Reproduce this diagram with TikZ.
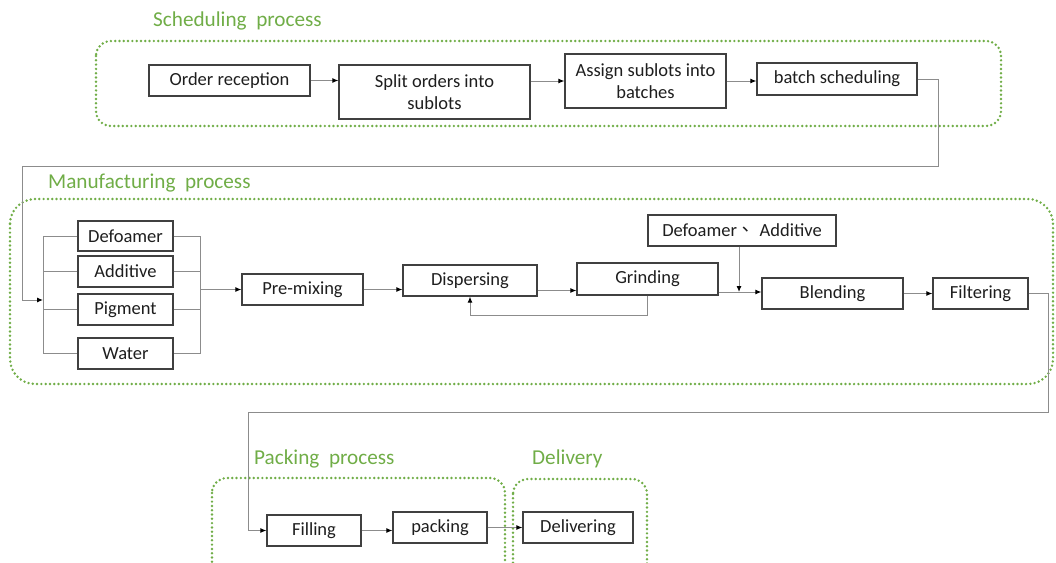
\documentclass[tikz,border=0pt]{standalone}
\usepackage{fontspec}
\setmainfont{Carlito}
\newfontfamily\cjkfont{Noto Sans CJK TC}
\usetikzlibrary{arrows.meta,calc}
\definecolor{offgreen}{HTML}{70AD47}
\definecolor{boxline}{HTML}{404040}
\definecolor{connline}{HTML}{8C8C8C}
\definecolor{txt}{HTML}{1E1E1E}
\begin{document}
\begin{tikzpicture}[x=1pt,y=-1pt,
 box/.style={draw=boxline, line width=1.2pt, fill=white, inner sep=0pt, align=center, text=txt, font=\fontsize{18.5}{22.5}\selectfont},
 sz/.style 2 args={minimum width=#1pt, minimum height=#2pt},
 conn/.style={draw=connline, line width=1pt},
 arr/.style={conn, -{Latex[length=6pt,width=5pt,color=black]}},
 region/.style={draw=offgreen, line width=2.7pt, dash pattern=on 0pt off 4.3pt, line cap=round},
 title/.style={text=offgreen, font=\fontsize{21.2}{24}\selectfont, anchor=west, inner sep=0pt}]
\useasboundingbox (0,0) rectangle (1056,562);
\clip (0,0) rectangle (1056,562);

% regions
\draw[region, rounded corners=15pt] (96,41) rectangle (1001,126);
\draw[region, rounded corners=25pt] (10,199) rectangle (1053,384);
\draw[region, rounded corners=15pt] (212,478) rectangle (505,580);
\draw[region, rounded corners=15pt] (513,479) rectangle (647,580);

% titles
\node[title] (tsch) at (153,21) {Scheduling\ \ process};
\node[title] (tman) at (48,183) {Manufacturing\ \ process};
\node[title] (tpack) at (254,459) {Packing\ \ process};
\node[title] (tdel) at (532,459) {Delivery};

% scheduling
\node[box, sz={161}{31}] (ord) at (229.5,80.5) {Order reception};
\node[box, sz={191}{54}] (split) at (434.5,92) {Split orders into\\sublots};
\node[box, sz={161}{54}] (assign) at (645.5,81) {Assign sublots into\\batches};
\node[box, sz={160}{32}] (bsch) at (837,79) {batch scheduling};

% manufacturing
\node[box, sz={95}{30}] (defo) at (125.5,236) {Defoamer};
\node[box, sz={95}{31}] (addi) at (125.5,271.5) {Additive};
\node[box, sz={95}{31}] (pigm) at (125.5,309.5) {Pigment};
\node[box, sz={95}{31}] (water) at (125.5,353.5) {Water};
\node[box, sz={121}{31}] (premix) at (302.5,289.5) {Pre-mixing};
\node[box, sz={134}{31}] (disp) at (470,280.5) {Dispersing};
\node[box, sz={141}{32}] (grind) at (647.5,279) {Grinding};
\node[box, sz={188}{31}] (defadd) at (742,230.5) {Defoamer{\cjkfont 、} Additive};
\node[box, sz={141}{31}] (blend) at (832.5,293.5) {Blending};
\node[box, sz={95}{31}] (filt) at (980.5,293.5) {Filtering};

% packing / delivery
\node[box, sz={94}{31}] (fill) at (314,530.5) {Filling};
\node[box, sz={94}{31}] (pack) at (440,527.5) {packing};
\node[box, sz={110}{31}] (deliv) at (578,527.5) {Delivering};

% helper coordinates
\coordinate (lb) at (43,0);
\coordinate (rb) at (200,0);
\coordinate (t1) at (938,166);
\coordinate (t2) at (22,166);
\coordinate (inL) at (43,300);
\coordinate (t3) at (1048,412);
\coordinate (t4) at (248,412);

% scheduling connectors
\draw[arr] (ord.east) -- (ord.east -| split.west);
\draw[arr] (assign.west -| split.east) -- (assign.west);
\draw[arr] (assign.east) -- (assign.east -| bsch.west);
\draw[arr] (bsch.east) -| (t1) -- (t2) |- (inL);

% buses
\draw[conn] (defo.west) -- (defo.west -| lb) -- (water.west -| lb) -- (water.west);
\draw[conn] (addi.west) -- (addi.west -| lb);
\draw[conn] (pigm.west) -- (pigm.west -| lb);
\draw[conn] (defo.east) -- (defo.east -| rb) -- (water.east -| rb) -- (water.east);
\draw[conn] (addi.east) -- (addi.east -| rb);
\draw[conn] (pigm.east) -- (pigm.east -| rb);
\draw[arr] (premix.west -| rb) -- (premix.west);

% manufacturing flow
\draw[arr] (premix.east) -- (premix.east -| disp.west);
\draw[arr] ([yshift=-10pt]disp.east) -- ([yshift=-10pt]disp.east -| grind.west);
\draw[arr] (grind.south) -- ++(0,20) -| (disp.south);
\draw[arr] ([yshift=1.5pt]blend.west -| grind.east) -- ([yshift=1.5pt]blend.west);
\draw[arr] ([xshift=-3pt]defadd.south) -- ([xshift=-3pt,yshift=1.5pt]defadd.south |- blend.west);
\draw[arr] (blend.east) -- (filt.west);
\draw[arr] (filt.east) -| (t3) -- (t4) |- (fill.west);

% packing flow
\draw[arr] (fill.east) -- (fill.east -| pack.west);
\draw[arr] (pack.east) -- (deliv.west);
\end{tikzpicture}
\end{document}
